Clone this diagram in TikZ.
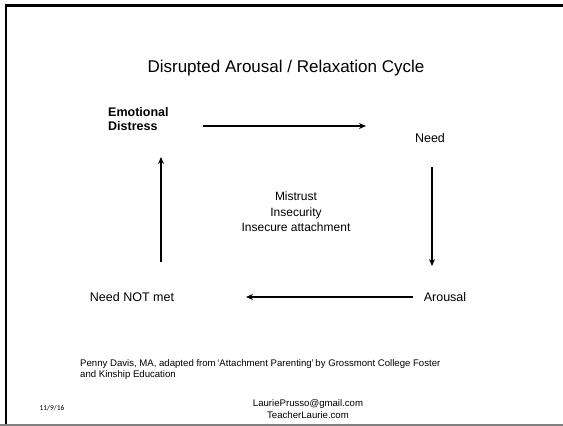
\documentclass[tikz,border=0pt]{standalone}
\usepackage{fontspec}
\setmainfont{Liberation Sans}
\newfontfamily\datefont{Carlito}
\usetikzlibrary{arrows.meta}
\begin{document}
\begin{tikzpicture}[x=1pt,y=-1pt,
  body/.style={font=\fontsize{12.5}{14.5}\selectfont, align=center, inner sep=0pt},
  flow/.style={line width=1.4pt, -{Stealth[length=7pt,width=6pt]}},
  foot/.style={font=\fontsize{9.6}{11.5}\selectfont, inner sep=0pt}]
\useasboundingbox (0,0) rectangle (563,426);
% frame
\draw[line width=2.2pt] (6,426) -- (6,5.5) -- (563,5.5);
\draw[line width=1.2pt, gray] (0,425) -- (563,425);
% title
\node[font=\fontsize{17}{20}\selectfont, inner sep=0pt] (title) at (286,68) {Disrupted Arousal / Relaxation Cycle};
% nodes
\node[body, font=\bfseries\fontsize{12.5}{14.5}\selectfont, align=left, anchor=west] (ed) at (108,119) {Emotional\\Distress};
\node[body] (need) at (430,138) {Need};
\node[body] (arousal) at (445,297) {Arousal};
\node[body] (notmet) at (132,297) {Need NOT met};
\node[body, font=\fontsize{12}{15.5}\selectfont] (center) at (296,212) {Mistrust\\Insecurity\\Insecure attachment};
% arrow endpoints
\coordinate (a1s) at (203,126); \coordinate (a1e) at (366,126);
\coordinate (a2s) at (432,167); \coordinate (a2e) at (432,266);
\coordinate (a3s) at (413,297); \coordinate (a3e) at (246,297);
\coordinate (a4s) at (161,262); \coordinate (a4e) at (161,157);
\draw[flow] (a1s) -- (a1e);
\draw[flow] (a2s) -- (a2e);
\draw[flow] (a3s) -- (a3e);
\draw[flow] (a4s) -- (a4e);
% footer
\node[foot, align=left, anchor=north west] (credit) at (80,359) {Penny Davis, MA, adapted from\,‘Attachment Parenting’\,by Grossmont College Foster\\and Kinship Education};
\node[foot, align=center] (contact) at (308,409) {LauriePrusso@gmail.com\\TeacherLaurie.com};
\node[font=\datefont\fontsize{7.5}{8}\selectfont, inner sep=0pt] (date) at (52,408) {11/9/16};
\end{tikzpicture}
\end{document}
